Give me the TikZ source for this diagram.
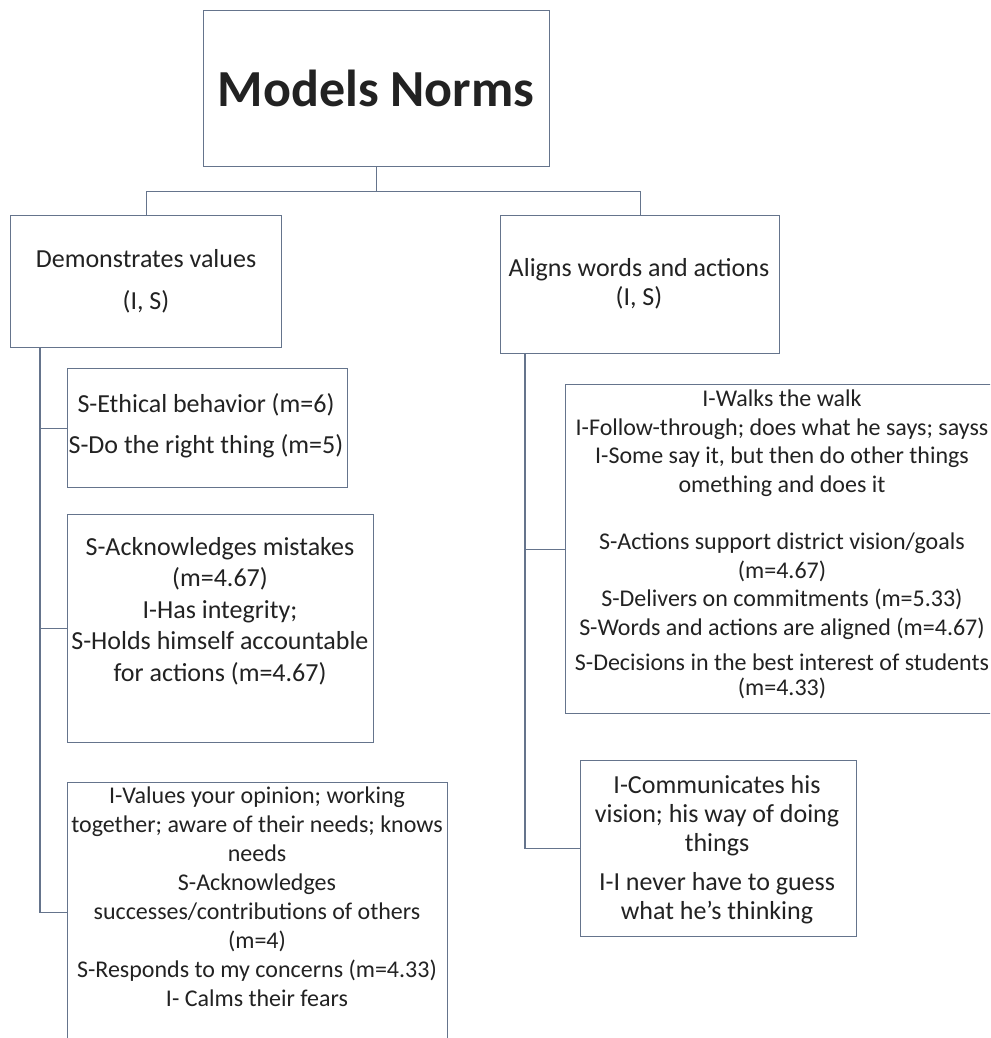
\documentclass[tikz,border=0pt]{standalone}
\usepackage{fontspec}
\setmainfont{Carlito}
\definecolor{edgecol}{HTML}{65748C}
\definecolor{inkcol}{HTML}{222222}
\tikzset{
  box/.style={draw=edgecol, line width=1.3pt, rectangle, inner sep=0pt, anchor=north west},
  txt/.style={align=center, inner sep=0pt, text=inkcol, font=\fontsize{24}{29}\selectfont},
  bigtxt/.style={txt, font=\fontsize{26}{29}\selectfont},
  conn/.style={draw=edgecol, line width=1.3pt},
}
\begin{document}
\begin{tikzpicture}[x=1pt, y=-1pt]
\useasboundingbox (0,0) rectangle (990,1038);
\fill[white] (0,0) rectangle (990,1038);
\clip (0,0) rectangle (990,1038);

% root
\node[box, minimum width=346pt, minimum height=156pt] (root) at (203,10) {};
\node[txt, font=\bfseries\fontsize{52}{60}\selectfont] (roottxt) at (376,88) {Models Norms};

% second level
\node[box, minimum width=271pt, minimum height=132pt] (dv) at (10,215) {};
\node[bigtxt] (dvtxt) at (146,281) {Demonstrates values\\[13pt](I, S)};
\node[box, minimum width=279pt, minimum height=138pt] (aw) at (500,215) {};
\node[bigtxt] (awtxt) at (639,283.5) {Aligns words and actions\\(I, S)};

\path (root.south) ++(0,24) coordinate (bus);
\draw[conn] (root.south) -- (bus);
\draw[conn] (bus) -| (dv.north);
\draw[conn] (bus) -| (aw.north);

% left column
\node[box, minimum width=280pt, minimum height=119pt] (l1) at (67,368) {};
\node[bigtxt] (l1txt) at (206,425.5) {S-Ethical behavior (m=6)\\[12pt]S-Do the right thing (m=5)};
\node[box, minimum width=306pt, minimum height=228pt] (l2) at (67,514) {};
\node[bigtxt, font=\fontsize{26}{31.5}\selectfont] (l2txt) at (220,611) {S-Acknowledges mistakes\\(m=4.67)\\I-Has integrity;\\S-Holds himself accountable\\for actions (m=4.67)};
\node[box, minimum width=380pt, minimum height=260pt] (l3) at (67,782) {};
\node[txt] (l3txt) at (257,896.5) {I-Values your opinion; working\\together; aware of their needs; knows\\needs\\S-Acknowledges\\successes/contributions of others\\(m=4)\\S-Responds to my concerns (m=4.33)\\I- Calms their fears};

\coordinate (lspine) at (40,347);
\draw[conn] (lspine) |- (l1.west);
\draw[conn] (lspine) |- (l2.west);
\draw[conn] (lspine) |- (l3.west);

% right column
\node[box, minimum width=434pt, minimum height=329pt] (r1) at (565,384) {};
\node[txt, font=\fontsize{24}{28.5}\selectfont] (r1txt) at (782,544.5) {I-Walks the walk\\I-Follow-through; does what he says; sayss\\I-Some say it, but then do other things\\omething and does it\\[29pt]S-Actions support district vision/goals\\(m=4.67)\\S-Delivers on commitments (m=5.33)\\S-Words and actions are aligned (m=4.67)\\[7pt]S-Decisions in the best interest of students\\[-4pt](m=4.33)};
\node[box, minimum width=276pt, minimum height=176pt] (r2) at (580,760) {};
\node[bigtxt] (r2txt) at (717,850) {I-Communicates his\\vision; his way of doing\\things\\[10pt]I-I never have to guess\\what he’s thinking};

\coordinate (rspine) at (525,353);
\draw[conn] (rspine) |- (r1.west);
\draw[conn] (rspine) |- (r2.west);
\end{tikzpicture}
\end{document}
